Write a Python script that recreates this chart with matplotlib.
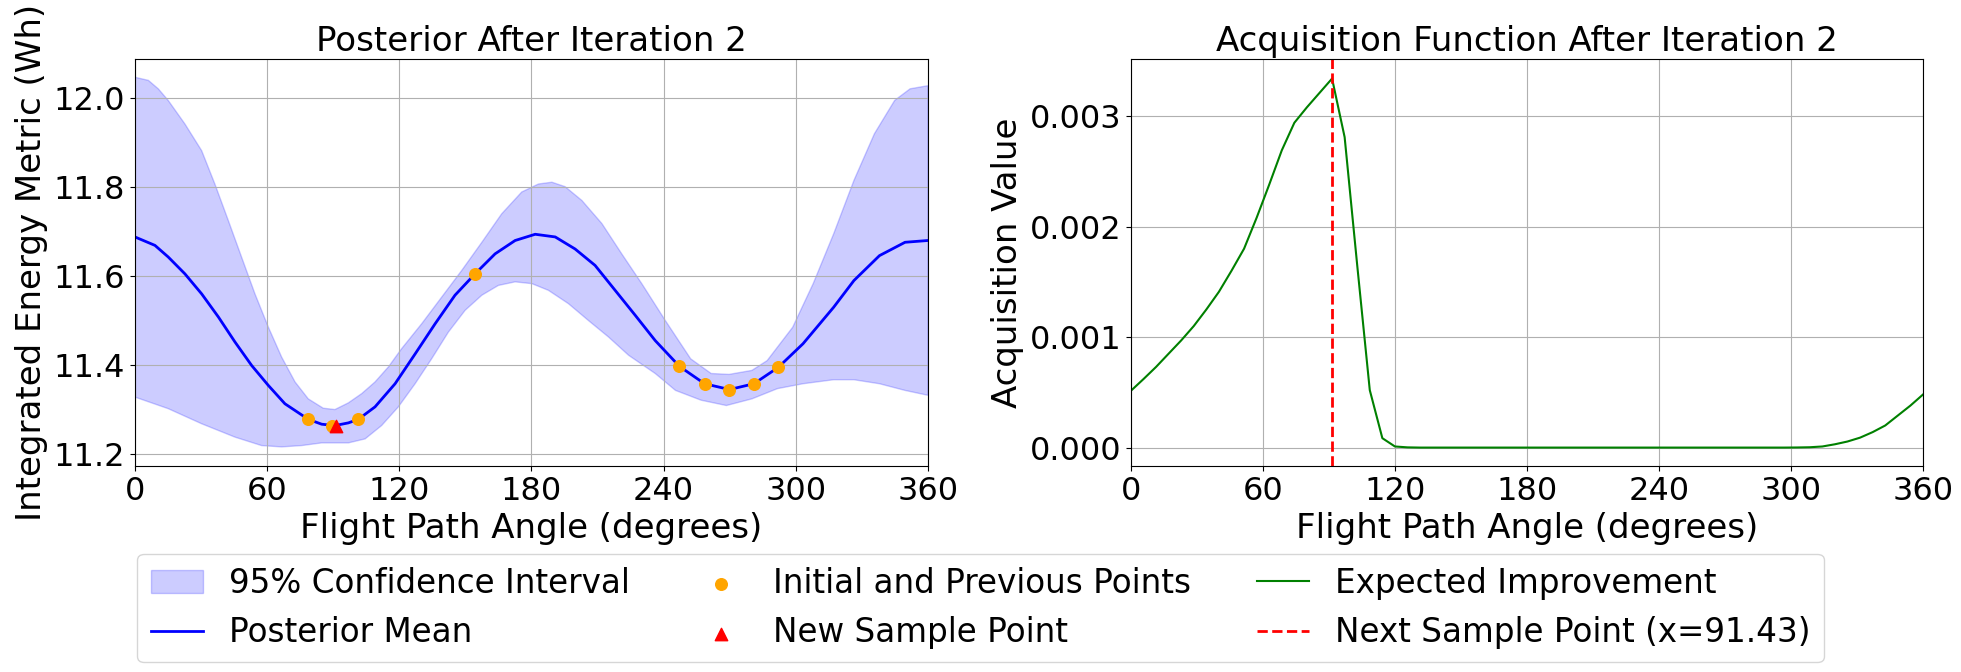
import matplotlib
matplotlib.use("Agg")
import matplotlib.pyplot as plt
import matplotlib.ticker as ticker

# posterior mean
mean_x = [0, 9.1, 15.1, 22.7, 30.3, 37.9, 45.4, 53.0, 60.6, 68.1, 78.7, 84.8, 90.8, 96.9,
          101.4, 109.0, 118.1, 127.2, 136.3, 145.3, 154.4, 163.5, 172.6, 181.7, 190.8,
          199.8, 208.9, 218.0, 227.1, 236.2, 247.2, 258.6, 269.9, 281.0, 292.1, 303.3,
          317.2, 326.4, 338.0, 349.6, 360]
mean_y = [11.688, 11.669, 11.643, 11.605, 11.560, 11.508, 11.452, 11.399, 11.354, 11.313,
          11.278, 11.267, 11.264, 11.270, 11.278, 11.306, 11.358, 11.425, 11.493, 11.557,
          11.605, 11.650, 11.680, 11.694, 11.688, 11.661, 11.624, 11.568, 11.512, 11.455,
          11.397, 11.358, 11.345, 11.358, 11.395, 11.448, 11.530, 11.590, 11.646, 11.676,
          11.680]

# 95% interval bounds
upper_x = [0, 6.1, 10.6, 15.1, 22.7, 30.3, 36.3, 42.4, 48.4, 54.5, 60.6, 66.6, 72.7, 78.7,
           85.5, 90.8, 96.9, 103.0, 109.0, 115.1, 121.1, 130.2, 139.3, 148.4, 157.5, 166.5,
           175.6, 183.2, 189.3, 195.3, 202.9, 212.0, 221.0, 230.1, 240.8, 252.3, 261.6,
           269.7, 280.1, 287.0, 298.6, 307.9, 317.2, 326.4, 335.7, 344.9, 351.9, 360]
upper_y = [12.047, 12.040, 12.021, 11.995, 11.942, 11.882, 11.807, 11.725, 11.643, 11.560,
           11.485, 11.418, 11.362, 11.324, 11.303, 11.300, 11.315, 11.336, 11.362, 11.396,
           11.437, 11.493, 11.553, 11.613, 11.676, 11.740, 11.789, 11.807, 11.811, 11.801,
           11.770, 11.718, 11.650, 11.583, 11.500, 11.414, 11.381, 11.379, 11.388, 11.410,
           11.485, 11.583, 11.695, 11.815, 11.920, 11.995, 12.021, 12.028]
lower_x = [0, 15.1, 30.3, 45.4, 57.5, 66.6, 75.7, 84.8, 96.9, 104.5, 112.0, 119.6, 127.2,
           134.7, 142.3, 149.9, 157.5, 165.0, 172.6, 180.2, 187.7, 196.8, 205.9, 215.0,
           224.1, 236.2, 245.4, 257.0, 268.5, 280.1, 291.7, 303.3, 317.2, 326.4, 338.0,
           349.6, 360]
lower_y = [11.328, 11.302, 11.268, 11.238, 11.219, 11.216, 11.219, 11.225, 11.225, 11.234,
           11.264, 11.306, 11.358, 11.414, 11.474, 11.523, 11.557, 11.579, 11.587, 11.583,
           11.568, 11.538, 11.500, 11.463, 11.422, 11.381, 11.343, 11.321, 11.309, 11.324,
           11.347, 11.358, 11.367, 11.367, 11.358, 11.343, 11.332]

# sampled points
prev_x = [78.7, 89.3, 101.4, 154.4, 247.2, 258.6, 269.9, 281.0, 292.1]
prev_y = [11.278, 11.263, 11.278, 11.605, 11.397, 11.358, 11.345, 11.358, 11.395]
new_x = [91.43]
new_y = [11.264]

# expected improvement on the evaluation grid
ei_x = [0.0, 5.71, 11.43, 17.14, 22.86, 28.57, 34.29, 40.0, 45.71, 51.43, 57.14, 62.86,
        68.57, 74.29, 80.0, 85.71, 91.43, 97.14, 102.86, 108.57, 114.29, 120.0, 125.71,
        131.43, 137.14, 142.86, 148.57, 154.29, 160.0, 165.71, 171.43, 177.14, 182.86,
        188.57, 194.29, 200.0, 205.71, 211.43, 217.14, 222.86, 228.57, 234.29, 240.0,
        245.71, 251.43, 257.14, 262.86, 268.57, 274.29, 280.0, 285.71, 291.43, 297.14,
        302.86, 308.57, 314.29, 320.0, 325.71, 331.43, 337.14, 342.86, 348.57, 354.29, 360.0]
ei_y = [0.000514, 0.00062, 0.00073, 0.00085, 0.00097, 0.00110, 0.00125, 0.00141, 0.00160,
        0.00180, 0.00208, 0.00238, 0.00269, 0.00294, 0.00308, 0.00321, 0.00334, 0.00281,
        0.00165, 0.00052, 0.000085, 0.00001, 0.000002, 0, 0, 0, 0, 0, 0, 0, 0, 0, 0, 0,
        0, 0, 0, 0, 0, 0, 0, 0, 0, 0, 0, 0, 0, 0, 0, 0, 0, 0, 0, 0.000001, 0.000003,
        0.00001, 0.00003, 0.000055, 0.00009, 0.00014, 0.00020, 0.00029, 0.00038, 0.00048]
next_x = 91.43

xticks = [0, 60, 120, 180, 240, 300, 360]

fig = plt.figure(figsize=(19.61, 6.72), dpi=100)
ax1 = fig.add_axes([0.0688, 0.3065, 0.4044, 0.6057])
ax2 = fig.add_axes([0.5767, 0.3065, 0.4039, 0.6057])

ax1.fill(upper_x + lower_x[::-1], upper_y + lower_y[::-1], color="blue", alpha=0.2,
         label="95% Confidence Interval")
ax1.plot(mean_x, mean_y, color="blue", lw=2, label="Posterior Mean")
ax1.scatter(prev_x, prev_y, color="orange", s=70, zorder=3, label="Initial and Previous Points")
ax1.scatter(new_x, new_y, color="red", marker="^", s=80, zorder=4, label="New Sample Point")
ax1.set_title("Posterior After Iteration 2", fontsize=24.5)
ax1.set_xlabel("Flight Path Angle (degrees)", fontsize=24.5)
ax1.set_ylabel("Integrated Energy Metric (Wh)", fontsize=24.5)
ax1.set_xlim(0, 360)
ax1.set_ylim(11.173, 12.088)
ax1.set_xticks(xticks)
ax1.set_yticks([11.2, 11.4, 11.6, 11.8, 12.0])
ax1.tick_params(labelsize=23)
ax1.grid(True)

ax2.plot(ei_x, ei_y, color="green", lw=1.5, label="Expected Improvement")
ax2.axvline(next_x, color="red", linestyle="--", lw=2,
            label=f"Next Sample Point (x={next_x:.2f})")
ax2.set_title("Acquisition Function After Iteration 2", fontsize=24.5)
ax2.set_xlabel("Flight Path Angle (degrees)", fontsize=24.5)
ax2.set_ylabel("Acquisition Value", fontsize=24.5)
ax2.set_xlim(0, 360)
ax2.set_ylim(-0.000167, 0.003517)
ax2.set_xticks(xticks)
ax2.set_yticks([0, 0.001, 0.002, 0.003])
ax2.yaxis.set_major_formatter(ticker.FormatStrFormatter("%.3f"))
ax2.tick_params(labelsize=23)
ax2.grid(True)

h1, l1 = ax1.get_legend_handles_labels()
h2, l2 = ax2.get_legend_handles_labels()
fig.legend(h1 + h2, l1 + l2, loc="lower center", bbox_to_anchor=(0.5, 0.0), ncol=3,
           fontsize=23.5, handlelength=1.6, borderaxespad=0.3)

fig.savefig("out.png", dpi=100)
